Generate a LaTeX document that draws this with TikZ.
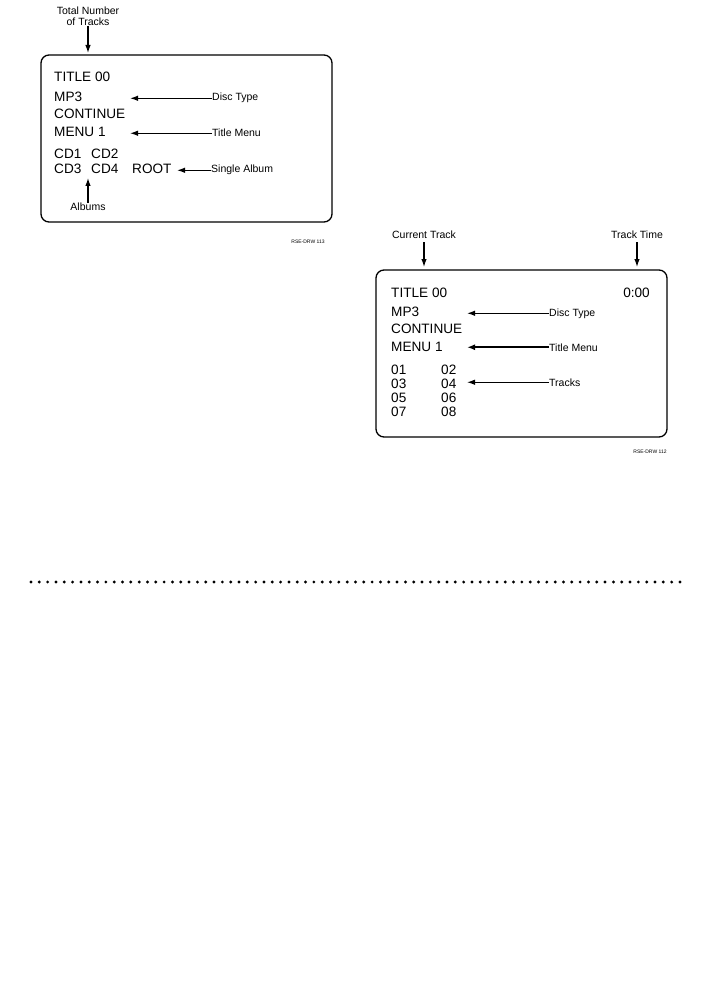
\documentclass[tikz,border=0pt]{standalone}
\usepackage{fontspec}
\setmainfont{Liberation Sans}
\usetikzlibrary{arrows.meta}
\begin{document}
\begin{tikzpicture}[x=1pt,y=-1pt,
  screen/.style={draw=black,line width=1.3pt,rounded corners=8pt},
  big/.style={inner sep=0pt,anchor=base west,font=\fontsize{13.6}{16}\selectfont},
  lbl/.style={inner sep=0pt,anchor=base west,font=\fontsize{10.5}{12}\selectfont},
  toplbl/.style={inner sep=0pt,align=center,font=\fontsize{10.5}{11.5}\selectfont},
  tag/.style={inner sep=0pt,font=\fontsize{5}{6}\selectfont},
  arr/.style={line width=1.2pt,-{Latex[length=8pt,width=5.5pt]}},
  arrb/.style={line width=1.7pt,-{Latex[length=8pt,width=6pt]}}]
\useasboundingbox (0,0) rectangle (708,992);
% ---------- left screen ----------
\draw[screen] (41,55) rectangle (332,222);
\node[toplbl,anchor=south] (tnt) at (88,26) {Total Number\\of Tracks};
\coordinate (tntTip) at (88,53);
\draw[arr] (tnt.south) -- (tntTip);
\node[big] (l1) at (54,82) {TITLE 00};
\node[big] (l2) at (54,102) {MP3};
\node[big] (l3) at (54,119) {CONTINUE};
\node[big] (l4) at (54,137) {MENU 1};
\node[big] (l5a) at (54,159) {CD1};
\node[big] (l5b) at (91,159) {CD2};
\node[big] (l6a) at (54,174) {CD3};
\node[big] (l6b) at (91,174) {CD4};
\node[big] (root) at (132,174) {ROOT};
\node[lbl] (ldt) at (212,101) {Disc Type};
\coordinate (ldtTip) at (130,97);
\draw[arr] (ldt.west) -- (ldt.west -| ldtTip);
\node[lbl] (ltm) at (212,137) {Title Menu};
\coordinate (ltmTip) at (130,133);
\draw[arr] (ltm.west) -- (ltm.west -| ltmTip);
\node[lbl] (lsa) at (211,173) {Single Album};
\coordinate (lsaTip) at (177,170);
\draw[arr] (lsa.west) -- (lsa.west -| lsaTip);
\node[toplbl,anchor=north] (alb) at (88,203) {Albums};
\coordinate (albTip) at (88,178);
\draw[arr] (alb.north) -- (albTip);
\node[tag] (t113) at (308,242) {RSE-DRW 113};
% ---------- right screen ----------
\draw[screen] (376,270) rectangle (667,437);
\node[toplbl,anchor=base] (ct) at (424,238) {Current Track};
\coordinate (ctTip) at (424,267);
\draw[arr] (ct.south) ++(0,4) coordinate (ctS) -- (ctTip);
\node[toplbl,anchor=base] (tt) at (637,238) {Track Time};
\coordinate (ttTip) at (637,267);
\draw[arr] (tt.south) ++(0,4) coordinate (ttS) -- (ttTip);
\node[big] (r1) at (391,297) {TITLE 00};
\node[big,anchor=base east] (time) at (650,297) {0:00};
\node[big] (r2) at (391,316) {MP3};
\node[big] (r3) at (391,333) {CONTINUE};
\node[big] (r4) at (391,351) {MENU 1};
\node[big] (t01) at (391,374) {01};
\node[big] (t02) at (441,374) {02};
\node[big] (t03) at (391,388) {03};
\node[big] (t04) at (441,388) {04};
\node[big] (t05) at (391,402) {05};
\node[big] (t06) at (441,402) {06};
\node[big] (t07) at (391,416) {07};
\node[big] (t08) at (441,416) {08};
\node[lbl] (rdt) at (549,316) {Disc Type};
\coordinate (rdtTip) at (467,312);
\draw[arr] (rdt.west) -- (rdt.west -| rdtTip);
\node[lbl] (rtm) at (549,351) {Title Menu};
\coordinate (rtmTip) at (467,347);
\draw[arrb] (rtm.west) -- (rtm.west -| rtmTip);
\node[lbl] (rtr) at (549,386) {Tracks};
\coordinate (rtrTip) at (467,382);
\draw[arr] (rtr.west) -- (rtr.west -| rtrTip);
\node[tag] (t112) at (650,452) {RSE-DRW 112};
% ---------- dotted separator ----------
\foreach \i in {0,...,78} {
  \fill (31+\i*8.32,582) circle (1.6pt);
}
\end{tikzpicture}
\end{document}
